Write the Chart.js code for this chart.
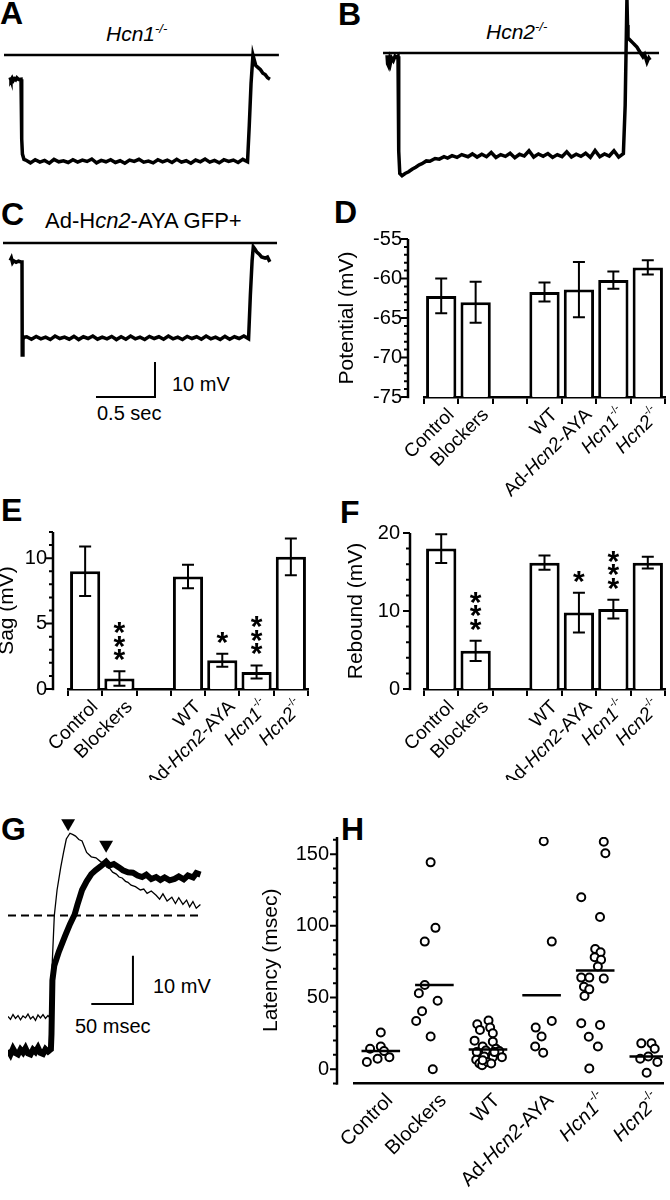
<!DOCTYPE html>
<html>
<head>
<meta charset="utf-8">
<script src="https://cdn.jsdelivr.net/npm/chart.js@4.4.1/dist/chart.umd.min.js"></script>
<style>
  html, body { margin: 0; padding: 0; background: #fff; }
  body { width: 670px; height: 1200px; position: relative; overflow: hidden; font-family: "Liberation Sans", Arial, sans-serif; color: #000; }
  canvas, .t { position: absolute; }
  .t { line-height: 1; white-space: nowrap; }
  .L { font-size: 32px; font-weight: bold; }
  .s { font-size: 20px; }
  .h { font-size: 21px; }
  sup { font-size: 13px; vertical-align: baseline; position: relative; top: -8px; }
</style>
</head>
<body>
<div class="t L" style="left:0;top:-3px">A</div>
<div class="t L" style="left:338px;top:-2px">B</div>
<div class="t L" style="left:1px;top:198px">C</div>
<div class="t L" style="left:334px;top:196px">D</div>
<div class="t L" style="left:1px;top:494px">E</div>
<div class="t L" style="left:340px;top:496px">F</div>
<div class="t L" style="left:1px;top:813px">G</div>
<div class="t L" style="left:341px;top:813px">H</div>

<div class="t h" style="left:106px;top:23px"><i>Hcn1<sup>-/-</sup></i></div>
<div class="t h" style="left:486px;top:21px"><i>Hcn2<sup>-/-</sup></i></div>
<div class="t" style="left:45px;top:210px;font-size:22px">Ad-H<i>cn2</i>-AYA GFP+</div>
<div class="t s" style="left:172px;top:374px">10 mV</div>
<div class="t s" style="left:97px;top:403px">0.5 sec</div>
<div class="t s" style="left:153px;top:976px">10 mV</div>
<div class="t s" style="left:75px;top:1016px">50 msec</div>

<canvas id="cA" width="290" height="150" style="left:0;top:30px"></canvas>
<canvas id="cB" width="335" height="190" style="left:335px;top:0"></canvas>
<canvas id="cC" width="290" height="215" style="left:0;top:190px"></canvas>
<canvas id="cD" width="335" height="300" style="left:335px;top:200px"></canvas>
<canvas id="cE" width="340" height="300" style="left:-5px;top:480px"></canvas>
<canvas id="cF" width="335" height="300" style="left:335px;top:480px"></canvas>
<canvas id="cG" width="215" height="280" style="left:0;top:800px"></canvas>
<canvas id="cH" width="440" height="400" style="left:230px;top:800px"></canvas>

<script>
/* Figure: sag / rebound in Hcn knockouts. Traces in A-C, G; bar panels D-F; latency scatter H. */
const FONT = '"Liberation Sans", Arial, sans-serif';
Chart.defaults.font.family = FONT;
Chart.defaults.color = '#000';

// ---- A-C traces: time (s) from step onset, potential (mV) relative to the reference line ----
const refA = [[-0.144, 0], [2.186, 0]];
const traceA = [
  [-0.093, -6.4], [-0.085, -7.2], [-0.075, -6.6], [-0.065, -7.3], [-0.055, -6.8], [-0.045, -7.1], [-0.035, -6.5], [-0.02, -7.0], [0, -6.9],
  [0.006, -24], [0.012, -28.3], [0.025, -29.8],
  [0.04, -30.0], [0.08, -30.8], [0.12, -29.9], [0.16, -30.6], [0.20, -30.1], [0.24, -30.9], [0.28, -29.8], [0.32, -30.5],
  [0.36, -30.2], [0.40, -30.7], [0.44, -29.9], [0.48, -30.6], [0.52, -30.0], [0.56, -30.4], [0.60, -29.7], [0.64, -30.8],
  [0.68, -30.1], [0.72, -30.5], [0.76, -29.9], [0.80, -30.7], [0.84, -30.2], [0.88, -30.9], [0.92, -30.0], [0.96, -30.4],
  [1.00, -29.8], [1.04, -30.6], [1.08, -30.3], [1.12, -30.8], [1.16, -29.9], [1.20, -30.5], [1.24, -30.0], [1.28, -30.7],
  [1.32, -29.8], [1.36, -30.6], [1.40, -30.2], [1.44, -30.9], [1.48, -30.0], [1.52, -30.5], [1.56, -29.7], [1.60, -30.6],
  [1.64, -30.1], [1.68, -30.8], [1.72, -29.9], [1.76, -30.4], [1.80, -30.0], [1.84, -30.7], [1.88, -29.8], [1.92, -30.5],
  [1.935, -20], [1.95, -8], [1.966, 0], [1.98, -1.8], [1.99, -3.0], [2.01, -3.6], [2.03, -4.2], [2.05, -5.2], [2.07, -5.6], [2.09, -6.5], [2.11, -6.9],
];
const refB = [[-0.127, 0], [2.212, 0]];
const traceB = [
  [-0.093, -0.6], [-0.088, -3.1], [-0.08, -3.7], [-0.072, -2.0], [-0.065, -3.0], [-0.055, -1.4], [-0.04, -2.2], [-0.025, -0.9], [-0.01, -1.3], [0, -0.9],
  [0.006, -28], [0.015, -34.4], [0.034, -35.0], [0.06, -34.4], [0.09, -33.9], [0.119, -33.2], [0.15, -32.6], [0.18, -31.9],
  [0.203, -31.6], [0.24, -30.8], [0.27, -30.9], [0.314, -30.1], [0.35, -30.3], [0.39, -29.6], [0.42, -30.0], [0.458, -29.3],
  [0.5, -29.8], [0.54, -29.0], [0.593, -29.6],
  [0.63, -28.8], [0.67, -29.7], [0.71, -28.9], [0.75, -29.6], [0.79, -28.4], [0.83, -29.8], [0.87, -29.0], [0.91, -29.5],
  [0.95, -28.6], [0.99, -29.9], [1.03, -28.9], [1.07, -29.4], [1.11, -27.9], [1.15, -29.7], [1.19, -28.8], [1.23, -29.5],
  [1.27, -28.7], [1.31, -29.8], [1.35, -29.0], [1.39, -29.6], [1.43, -28.2], [1.47, -29.7], [1.51, -28.9], [1.55, -29.5],
  [1.59, -28.6], [1.63, -29.8], [1.67, -27.8], [1.71, -29.6], [1.75, -28.8], [1.79, -29.4], [1.83, -27.9], [1.87, -29.7], [1.91, -28.7],
  [1.925, -15], [1.94, 15.5], [1.945, 8], [1.949, 4.3], [1.97, 3.6], [1.99, 2.9], [2.01, 2.2], [2.025, 1.7], [2.05, 0.3],
  [2.076, -1.1], [2.09, -0.4], [2.11, -2.6], [2.125, -1.4], [2.136, -2.0],
];
const refC = [[-0.161, 0], [2.161, 0]];
const traceC = [
  [-0.1, -5.0], [-0.09, -4.3], [-0.08, -5.6], [-0.07, -5.1], [-0.05, -5.5], [-0.03, -5.2], [-0.01, -5.4], [0, -5.4],
  [0.002, -32], [0.008, -27.5], [0.02, -26.9],
  [0.04, -26.8], [0.08, -27.5], [0.12, -26.7], [0.16, -27.4], [0.20, -26.9], [0.24, -27.6], [0.28, -26.6], [0.32, -27.3],
  [0.36, -26.9], [0.40, -27.5], [0.44, -26.7], [0.48, -27.6], [0.52, -26.8], [0.56, -27.3], [0.60, -26.6], [0.64, -27.5],
  [0.68, -26.9], [0.72, -27.4], [0.76, -26.7], [0.80, -27.6], [0.84, -26.8], [0.88, -27.5], [0.92, -26.6], [0.96, -27.4],
  [1.00, -26.9], [1.04, -27.6], [1.08, -26.7], [1.12, -27.3], [1.16, -26.8], [1.20, -27.5], [1.24, -26.6], [1.28, -27.4],
  [1.32, -26.9], [1.36, -27.6], [1.40, -26.7], [1.44, -27.3], [1.48, -26.8], [1.52, -27.5], [1.56, -26.6], [1.60, -27.4],
  [1.64, -26.9], [1.68, -27.6], [1.72, -26.7], [1.76, -27.5], [1.80, -26.8], [1.84, -27.3], [1.88, -26.6], [1.92, -27.4],
  [1.935, -15], [1.95, -5], [1.96, -1.1], [1.975, -1.8], [1.99, -2.6], [2.01, -3.2], [2.03, -4.0], [2.06, -4.3], [2.08, -4.0], [2.1, -5.4],
];
// scale bar corner (s, mV) and lengths
const barC = { x: 1.127, y: -44, dx: 0.5, dy: 10 };

// ---- G: rebound, time (ms), mV relative to dashed line ----
const gDash = [[0, 0], [231, 0]];
const gThin = [
  [0, -21.0], [3, -21.6], [6, -20.6], [9, -21.4], [12, -20.8], [15, -21.7], [18, -20.9], [21, -21.3], [24, -20.5], [27, -21.5],
  [30, -21.0], [33, -21.8], [36, -20.7], [39, -21.3], [42, -20.6], [45, -21.4], [48, -20.8], [50, -21.2], [51.5, -20.5],
  [52.2, -13.5], [55.6, 0], [58.9, 5.3], [63.3, 10], [66.7, 13.1], [70, 15.9], [74.4, 17.1], [78, 16.8], [81.1, 16.5],
  [85, 15.8], [88.9, 15.5], [94.4, 13.1], [100, 12.2], [105.6, 12.0], [111.1, 11.2], [115, 10.8], [118.9, 10.0], [122, 9.8],
  [125.6, 9.0], [130, 8.6], [133.3, 8.0], [137, 7.8], [141.1, 7.1], [144, 6.9], [147.8, 6.3], [153, 6.0], [158.9, 5.3],
  [163, 5.5], [167, 4.6], [172, 5.1], [177.8, 4.2], [182, 3.4], [186, 4.5], [191, 3.0], [196.7, 3.8], [201, 2.5],
  [205, 3.7], [210, 2.3], [214.4, 3.2], [218, 1.8], [222, 2.9], [226, 1.5], [231, 2.3],
];
const gThick = [
  [0, -28.0], [3, -28.9], [6, -27.7], [9, -28.6], [12, -28.9], [15, -27.9], [18, -28.5], [21, -27.6], [24, -28.7], [27, -28.9],
  [30, -27.9], [33, -28.4], [36, -27.5], [39, -28.6], [42, -28.8], [45, -27.8], [48, -28.3], [50, -28.0], [51.5, -27.8],
  [52.2, -24.7], [53.3, -13.5], [55.6, -10.4], [61.1, -7.5], [68.9, -4.1], [74.4, -1.8], [80, 0.2], [83.3, 2.2], [88.9, 5.3],
  [94.4, 7.1], [100, 8.6], [105, 9.4], [111.1, 10.2], [117.8, 11.2], [122, 10.4], [127, 10.7], [133.3, 10.0], [138, 9.4],
  [144, 9.0], [150, 8.9], [155.6, 8.3], [161, 8.0], [166, 8.5], [172, 7.6], [177.8, 8.0], [183, 7.4], [188, 7.9],
  [194, 7.3], [200, 7.6], [205, 8.1], [211, 7.5], [216, 8.3], [222.2, 7.9], [226, 8.8], [231.1, 8.5],
];
const gPeaks = [[72.2, 19.2], [117.8, 14.7]];
const barG = { x: 150, y: -18.4, dx: 50, dy: 10 };

// ---- D-F: group means and SEM ----
const barCats = ['Control', 'Blockers', '', 'WT', 'Ad-Hcn2-AYA', 'Hcn1-/-', 'Hcn2-/-'];
const potential = [-62.2, -63.0, null, -61.7, -61.4, -60.2, -58.6];
const potentialErr = [2.2, 2.6, null, 1.2, 3.5, 1.1, 0.9];
const potentialTicks = [-75, -70, -65, -60, -55];
const sag = [9.0, 0.8, null, 8.6, 2.2, 1.3, 10.1];
const sagErr = [1.9, 0.55, null, 0.9, 0.5, 0.5, 1.4];
const sagTicks = [0, 5, 10];
const rebound = [18.0, 4.9, null, 16.2, 9.8, 10.25, 16.2];
const reboundErr = [1.85, 1.3, null, 0.9, 2.55, 1.2, 0.75];
const reboundTicks = [0, 10, 20];
const sagStars = [0, 3, 0, 0, 1, 3, 0];
const reboundStars = [0, 3, 0, 0, 1, 3, 0];

// ---- H: latency per cell (ms), horizontal jitter within each group, group means ----
const hCats = ['Control', 'Blockers', 'WT', 'Ad-Hcn2-AYA', 'Hcn1-/-', 'Hcn2-/-'];
const latency = [
  [5.0, 14.2, 7.3, 15.8, 25.6, 8.4, 12.6],
  [144.3, 89, 98.6, 58.7, 53, 47.7, 40.4, 33.6, 22.8, 0],
  [31.3, 34.0, 27.4, 29.0, 25.1, 19.9, 19.2, 15.8, 14.2, 11.9, 13.0, 12.6, 6.6, 8.9, 8.4, 3.9, 2.7, 5.0, 11.9, 8.4, 6.2, 3.9],
  [159, 89, 33.6, 29, 22.8, 15.8, 11.4],
  [158.7, 150.7, 119.9, 106.2, 83.8, 81.5, 78.1, 76.3, 71.7, 63.9, 63.9, 63.2, 57.5, 55.7, 51.1, 32.0, 30.8, 22.6, 15.8, 0.5],
  [18, 18, 14.2, 7.3, 8.9, 5.0, -2.5],
];
const jitter = [
  [-0.26, -0.2, -0.06, 0, 0, 0.16, 0.06],
  [-0.07, -0.18, 0.02, -0.18, -0.29, 0.06, -0.23, -0.34, -0.07, -0.03],
  [-0.2, 0.01, -0.15, 0.04, 0.09, -0.25, 0.09, -0.1, 0.15, -0.21, -0.04, 0.21, -0.22, -0.07, 0.09, -0.16, -0.11, -0.01, 0.12, 0.26, -0.1, 0.06],
  [0.04, 0.19, 0.19, -0.11, 0, -0.12, 0.03],
  [0.16, 0.19, -0.26, 0.09, 0, 0.1, -0.01, 0.11, 0.05, -0.26, -0.11, 0.16, -0.21, -0.11, -0.2, -0.26, 0.09, -0.12, 0.05, -0.11],
  [-0.14, 0.05, 0.11, -0.16, -0.01, 0.16, -0.04],
];
const latMeans = [12.6, 58.7, 13.7, 51.6, 68.9, 8.9];
const latTicks = [0, 50, 100, 150];

const xy = (pairs) => pairs.map(([x, y]) => ({ x, y }));
const lBar = (b) => [{ x: b.x - b.dx, y: b.y }, { x: b.x, y: b.y }, { x: b.x, y: b.y + b.dy }];
const base = { responsive: false, animation: false, events: [], devicePixelRatio: 1 };
const noLegend = { legend: { display: false }, tooltip: { enabled: false } };

function line(data, w, extra) {
  return Object.assign({ data, showLine: true, borderColor: '#000', backgroundColor: '#000', borderWidth: w, pointRadius: 0, tension: 0 }, extra || {});
}

function traceChart(id, xr, yr, datasets) {
  return new Chart(document.getElementById(id), {
    type: 'scatter',
    data: { datasets },
    options: {
      ...base,
      plugins: noLegend,
      scales: { x: { display: false, min: xr[0], max: xr[1] }, y: { display: false, min: yr[0], max: yr[1] } },
    },
  });
}

// split "Ad-Hcn2-AYA" / "Hcn1-/-" into plain, italic and superscript runs
function richParts(label) {
  const m = label.match(/^(.*?)(Hcn\d)(-\/-)?(.*)$/);
  if (!m) return label ? [[label, '']] : [];
  return [[m[1], ''], [m[2], 'i'], [m[3] || '', 's'], [m[4], '']].filter((p) => p[0]);
}

function richLabels(labels, dx, dy, size) {
  const fontOf = (st) => (st === 'i' ? 'italic ' : '') + (st === 's' ? Math.round(size * 0.6) : size) + 'px ' + FONT;
  return {
    id: 'richLabels',
    afterDraw(chart) {
      const { ctx } = chart;
      const x = chart.scales.x;
      labels.forEach((label, i) => {
        const parts = richParts(label);
        if (!parts.length) return;
        ctx.save();
        ctx.translate(x.getPixelForValue(i) + dx, chart.chartArea.bottom + dy);
        ctx.rotate(-Math.PI / 4);
        ctx.fillStyle = '#000';
        ctx.textBaseline = 'middle';
        ctx.textAlign = 'left';
        let w = 0;
        parts.forEach(([t, st]) => { ctx.font = fontOf(st); w += ctx.measureText(t).width; });
        let cx = -w;
        parts.forEach(([t, st]) => {
          ctx.font = fontOf(st);
          ctx.fillText(t, cx, st === 's' ? -size * 0.4 : 0);
          cx += ctx.measureText(t).width;
        });
        ctx.restore();
      });
    },
  };
}

// y axis drawn a little left of the plot, with major and minor ticks
function yAxisGap(gap, minor, major) {
  return {
    id: 'yAxisGap',
    afterDraw(chart) {
      const { ctx, chartArea: a } = chart;
      const y = chart.scales.y;
      const x0 = a.left - gap;
      ctx.save();
      ctx.strokeStyle = '#000';
      ctx.lineWidth = 2.5;
      ctx.beginPath();
      ctx.moveTo(x0, y.getPixelForValue(y.max));
      ctx.lineTo(x0, y.getPixelForValue(y.min) + 1.2);
      ctx.stroke();
      ctx.lineWidth = 2;
      ctx.beginPath();
      for (let k = Math.ceil(y.min / minor); k <= Math.floor(y.max / minor); k++) {
        const v = k * minor;
        const p = y.getPixelForValue(v);
        ctx.moveTo(x0, p);
        ctx.lineTo(x0 - (v % major === 0 ? 7 : 4), p);
      }
      ctx.stroke();
      ctx.restore();
    },
  };
}

function errBars(errs, stars) {
  return {
    id: 'errBars',
    afterDatasetsDraw(chart) {
      const { ctx } = chart;
      const y = chart.scales.y;
      const vals = chart.data.datasets[0].data;
      ctx.save();
      ctx.strokeStyle = '#000';
      ctx.fillStyle = '#000';
      ctx.lineWidth = 2;
      ctx.font = 'bold 30px ' + FONT;
      ctx.textAlign = 'center';
      ctx.textBaseline = 'alphabetic';
      const m = ctx.measureText('*');
      const mid = (m.actualBoundingBoxAscent - m.actualBoundingBoxDescent) / 2;
      chart.getDatasetMeta(0).data.forEach((bar, i) => {
        if (vals[i] == null) return;
        const top = y.getPixelForValue(vals[i] + errs[i]);
        const bot = y.getPixelForValue(vals[i] - errs[i]);
        ctx.beginPath();
        ctx.moveTo(bar.x, top); ctx.lineTo(bar.x, bot);
        ctx.moveTo(bar.x - 6, top); ctx.lineTo(bar.x + 6, top);
        ctx.moveTo(bar.x - 6, bot); ctx.lineTo(bar.x + 6, bot);
        ctx.stroke();
        for (let k = 0; k < (stars ? stars[i] : 0); k++) ctx.fillText('*', bar.x, top - 16 - k * 13.5 + mid);
      });
      ctx.restore();
    },
  };
}

function barChart(id, o) {
  return new Chart(document.getElementById(id), {
    type: 'bar',
    data: {
      labels: barCats,
      datasets: [{ data: o.vals, base: o.base, backgroundColor: '#fff', borderColor: '#000', borderWidth: 3, barPercentage: 0.88, categoryPercentage: 1 }],
    },
    options: {
      ...base,
      layout: { padding: o.pad },
      plugins: noLegend,
      scales: {
        x: {
          grid: { drawOnChartArea: false, offset: true, tickLength: 7, color: '#000', lineWidth: 2 },
          border: { color: '#000', width: 2.5 },
          ticks: { display: false },
          afterFit: (s) => { s.height = o.xh; },
        },
        y: {
          min: o.ticks[0], max: o.max,
          grid: { display: false, drawTicks: false },
          border: { display: false },
          ticks: { padding: o.tickPad, color: '#000', font: { size: 20 } },
          afterBuildTicks: (s) => { s.ticks = o.ticks.map((v) => ({ value: v })); },
          afterFit: (s) => { s.width = o.yw; },
          title: { display: true, text: o.title, color: '#000', font: { size: 21 }, padding: 0 },
        },
      },
    },
    plugins: [yAxisGap(o.gap, o.minor, o.major), errBars(o.errs, o.stars), richLabels(barCats, 10, 15, 19)],
  });
}

// ---- A, B, C ----
traceChart('cA', [-0.178, 2.28], [-35.7, 7.14], [line(xy(refA), 2.5), line(xy(traceA), 3.5)]);
traceChart('cB', [-0.534, 2.305], [-39.1, 15.14], [line(xy(refB), 2.5), line(xy(traceB), 3.5)]);
traceChart('cC', [-0.1864, 2.271], [-46.3, 15.14], [line(xy(refC), 2.5), line(xy(traceC), 3.5), line(lBar(barC), 2)]);

// ---- D, E, F ----
barChart('cD', {
  vals: potential, errs: potentialErr, ticks: potentialTicks, max: -55, base: -75, title: 'Potential (mV)',
  pad: { left: 0, top: 39, right: 5, bottom: 0 }, yw: 89, xh: 103, tickPad: 22, gap: 16, minor: 1, major: 5,
});
barChart('cE', {
  vals: sag, errs: sagErr, stars: sagStars, ticks: sagTicks, max: 12, title: 'Sag (mV)',
  pad: { left: 0, top: 52, right: 27, bottom: 0 }, yw: 73, xh: 91, tickPad: 21, gap: 15, minor: 1, major: 5,
});
barChart('cF', {
  vals: rebound, errs: reboundErr, stars: reboundStars, ticks: reboundTicks, max: 20, title: 'Rebound (mV)',
  pad: { left: 9, top: 53, right: 5, bottom: 0 }, yw: 80, xh: 91, tickPad: 24, gap: 14, minor: 2, major: 10,
});

// ---- G ----
traceChart('cG', [0, 238.9], [-32.55, 22.35], [
  line(xy(gPeaks), 0, { showLine: false, pointStyle: 'triangle', rotation: 180, pointRadius: 8 }),
  line(xy(gDash), 2, { borderDash: [8, 5] }),
  line(xy(gThick), 6),
  line(xy(gThin), 1.3),
  line(lBar(barG), 2),
]);

// ---- H ----
const hPoints = [];
latency.forEach((vals, g) => vals.forEach((v, k) => hPoints.push({ x: g + jitter[g][k], y: v })));
const meanSets = latMeans.map((m, g) => ({
  type: 'line', data: [{ x: g - 0.36, y: m }, { x: g + 0.36, y: m }], borderColor: '#000', borderWidth: 2.5, pointRadius: 0,
}));
new Chart(document.getElementById('cH'), {
  type: 'scatter',
  data: { datasets: [...meanSets, { data: hPoints, pointRadius: 4, borderWidth: 2, borderColor: '#000', backgroundColor: '#fff' }] },
  options: {
    ...base,
    layout: { padding: { left: 29, top: 33.5, right: 7, bottom: 0 } },
    plugins: noLegend,
    scales: {
      x: {
        type: 'linear', min: -0.5, max: 5.265,
        grid: { display: false }, border: { color: '#000', width: 2.5 }, ticks: { display: false },
        afterFit: (s) => { s.height = 116.5; },
      },
      y: {
        min: -10, max: 162,
        grid: { display: false, drawTicks: false }, border: { display: false },
        ticks: { padding: 25, color: '#000', font: { size: 20 } },
        afterBuildTicks: (s) => { s.ticks = latTicks.map((v) => ({ value: v })); },
        afterFit: (s) => { s.width = 95; },
        title: { display: true, text: 'Latency (msec)', color: '#000', font: { size: 21 }, padding: 0 },
      },
    },
  },
  plugins: [yAxisGap(17, 10, 50), richLabels(hCats, 9, 14, 20)],
});
</script>
</body>
</html>
